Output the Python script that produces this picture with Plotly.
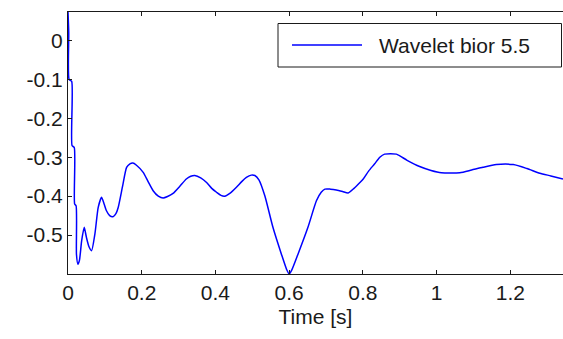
import plotly.graph_objects as go

# ---- data ----
time_s = [0.000, 0.002, 0.003, 0.010, 0.011, 0.017, 0.018, 0.022, 0.023, 0.027,
          0.031, 0.037, 0.044, 0.050, 0.057, 0.064, 0.073, 0.082, 0.091, 0.098,
          0.104, 0.113, 0.122, 0.130, 0.136, 0.148, 0.159, 0.168, 0.176, 0.185,
          0.204, 0.217, 0.231, 0.245, 0.258, 0.270, 0.285, 0.303, 0.321, 0.333,
          0.344, 0.360, 0.376, 0.390, 0.403, 0.415, 0.425, 0.440, 0.457, 0.472,
          0.484, 0.497, 0.507, 0.518, 0.534, 0.556, 0.579, 0.593, 0.600, 0.607,
          0.624, 0.651, 0.674, 0.687, 0.697, 0.712, 0.728, 0.745, 0.760, 0.776,
          0.792, 0.801, 0.816, 0.832, 0.846, 0.859, 0.891, 0.920, 0.954, 0.985,
          1.013, 1.063, 1.095, 1.126, 1.162, 1.208, 1.245, 1.280, 1.310, 1.343]
amplitude = [0.073, 0.020, -0.100, -0.105, -0.270, -0.275, -0.420, -0.425, -0.550, -0.575,
             -0.565, -0.515, -0.480, -0.506, -0.530, -0.540, -0.497, -0.429, -0.403, -0.420,
             -0.437, -0.450, -0.453, -0.445, -0.430, -0.375, -0.326, -0.317, -0.315, -0.320,
             -0.339, -0.362, -0.386, -0.400, -0.405, -0.401, -0.393, -0.375, -0.356, -0.349,
             -0.347, -0.353, -0.365, -0.380, -0.390, -0.398, -0.400, -0.392, -0.377, -0.362,
             -0.352, -0.346, -0.347, -0.358, -0.399, -0.480, -0.549, -0.588, -0.600, -0.590,
             -0.549, -0.480, -0.412, -0.390, -0.382, -0.382, -0.384, -0.388, -0.392, -0.380,
             -0.365, -0.356, -0.335, -0.317, -0.300, -0.292, -0.292, -0.308, -0.324, -0.334,
             -0.340, -0.340, -0.333, -0.326, -0.319, -0.319, -0.329, -0.341, -0.348, -0.356]

series_name = "Wavelet bior 5.5"
x_tick_vals = [0, 0.2, 0.4, 0.6, 0.8, 1.0, 1.2]
x_tick_text = ["0", "0.2", "0.4", "0.6", "0.8", "1", "1.2"]
y_tick_vals = [0, -0.1, -0.2, -0.3, -0.4, -0.5]
y_tick_text = ["0", "-0.1", "-0.2", "-0.3", "-0.4", "-0.5"]
x_title = "Time [s]"

FONT = "Liberation Sans, Arial, Helvetica, sans-serif"
AXC = "#1a1a1a"

fig = go.Figure()
fig.add_trace(go.Scatter(x=time_s, y=amplitude, mode="lines", name=series_name,
                         line=dict(color="#0000ff", width=1.5, shape="spline", smoothing=0.6),
                         showlegend=False))

fig.update_layout(
    width=563, height=339,
    margin=dict(l=68, r=0, t=12, b=65),
    paper_bgcolor="white", plot_bgcolor="white",
    font=dict(family=FONT, size=21, color="#1a1a1a"),
    xaxis=dict(range=[0, 1.343], tickmode="array", tickvals=x_tick_vals, ticktext=x_tick_text,
               ticks="inside", ticklen=4, tickwidth=1, tickcolor=AXC,
               showline=True, linecolor=AXC, linewidth=1, mirror="ticks",
               showgrid=False, zeroline=False,
               title=dict(text=x_title, standoff=6, font=dict(size=21))),
    yaxis=dict(range=[-0.6, 0.073], tickmode="array", tickvals=y_tick_vals, ticktext=y_tick_text,
               ticks="inside", ticklen=4, tickwidth=1, tickcolor=AXC,
               showline=True, linecolor=AXC, linewidth=1, mirror=False,
               showgrid=False, zeroline=False),
)

# manual legend box (MATLAB style)
fig.add_shape(type="rect", xref="paper", yref="paper",
              x0=(278 - 68) / 495, x1=(561.5 - 68) / 495,
              y0=(274 - 67) / 262, y1=(274 - 23.5) / 262,
              line=dict(color=AXC, width=1), fillcolor="white", layer="above")
fig.add_shape(type="line", xref="paper", yref="paper",
              x0=(292 - 68) / 495, x1=(362 - 68) / 495,
              y0=(274 - 45) / 262, y1=(274 - 45) / 262,
              line=dict(color="#0000ff", width=1.5), layer="above")
fig.add_annotation(xref="paper", yref="paper", x=(377 - 68) / 495, y=(274 - 45) / 262,
                   text=series_name, showarrow=False, xanchor="left", yanchor="middle",
                   font=dict(size=21, family=FONT, color="#1a1a1a"))

fig.write_html("out.html")
